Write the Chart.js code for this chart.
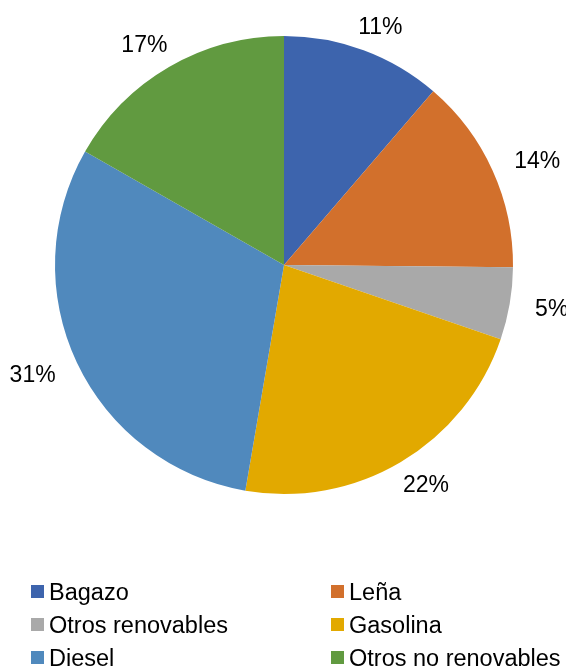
<!DOCTYPE html>
<html>
<head>
<meta charset="utf-8">
<script src="https://cdn.jsdelivr.net/npm/chart.js@4/dist/chart.umd.min.js"></script>
<style>
  html, body { margin: 0; padding: 0; background: #ffffff; }
  #wrap { position: relative; width: 566px; height: 668px; overflow: hidden; }
  #c { position: absolute; left: 0; top: 0; }
  .lg { position: absolute; font-family: "Liberation Sans", Arial, sans-serif; font-size: 23.5px; color: #000; white-space: nowrap; line-height: 33px; height: 33px; }
  .lg span.sw { display: inline-block; width: 13px; height: 13px; margin-right: 5px; vertical-align: middle; position: relative; top: -2px; }
</style>
</head>
<body>
<div id="wrap">
  <canvas id="c" width="566" height="668"></canvas>
</div>
<script>
const categories = ["Bagazo", "Leña", "Otros renovables", "Gasolina", "Diesel", "Otros no renovables"];
// shares (percent of total)
const shares = [11.3, 13.85, 5.1, 22.45, 30.55, 16.75];
const sliceColors = ["#3D64AD", "#D2702C", "#A9A9A9", "#E2A900", "#5089BD", "#619A40"];

const FONT = '"Liberation Sans", Arial, sans-serif';

const outsideLabels = {
  id: 'outsideLabels',
  afterDatasetsDraw(chart) {
    const ctx = chart.ctx;
    const meta = chart.getDatasetMeta(0);
    const total = shares.reduce((a, b) => a + b, 0);
    ctx.save();
    ctx.font = '23px ' + FONT;
    ctx.fillStyle = '#000';
    ctx.textAlign = 'center';
    ctx.textBaseline = 'middle';
    meta.data.forEach((arc, i) => {
      const p = arc.getProps(['x', 'y', 'startAngle', 'endAngle', 'outerRadius'], true);
      const mid = (p.startAngle + p.endAngle) / 2;
      const ux = Math.cos(mid), uy = Math.sin(mid);
      const txt = Math.round(shares[i] / total * 100) + '%';
      const hw = ctx.measureText(txt).width / 2;
      const d = p.outerRadius + 26;
      const x = p.x + ux * d + ux * hw;
      const y = p.y + uy * d + 1.5;
      ctx.fillText(txt, x, y);
    });
    ctx.restore();
  }
};

new Chart(document.getElementById('c'), {
  type: 'pie',
  data: {
    labels: categories,
    datasets: [{
      data: shares,
      backgroundColor: sliceColors,
      borderWidth: 0,
      hoverOffset: 0,
      offset: 0
    }]
  },
  options: {
    responsive: false,
    animation: false,
    devicePixelRatio: 1,
    layout: { padding: { top: 36, left: 55, right: 53, bottom: 174 } },
    plugins: {
      legend: { display: false },
      tooltip: { enabled: false }
    }
  },
  plugins: [outsideLabels]
});

// legend: two columns, three rows
const wrap = document.getElementById('wrap');
const colX = [31, 331];
const rowY = [576, 609, 642];
categories.forEach((name, i) => {
  const col = i % 2, row = Math.floor(i / 2);
  const el = document.createElement('div');
  el.className = 'lg';
  el.style.left = colX[col] + 'px';
  el.style.top = rowY[row] + 'px';
  const sw = document.createElement('span');
  sw.className = 'sw';
  sw.style.background = sliceColors[i];
  el.appendChild(sw);
  el.appendChild(document.createTextNode(name));
  wrap.appendChild(el);
});
</script>
</body>
</html>
